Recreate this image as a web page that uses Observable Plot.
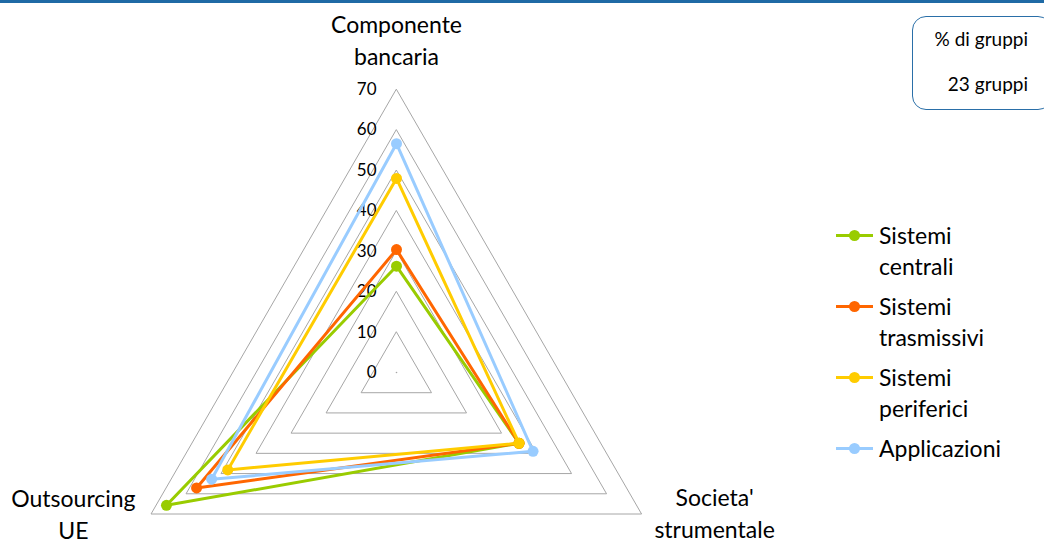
<!DOCTYPE html>
<html>
<head>
<meta charset="utf-8">
<script src="https://cdn.jsdelivr.net/npm/d3@7"></script>
<script src="https://cdn.jsdelivr.net/npm/@observablehq/plot@0.6"></script>
<style>
  html, body { margin: 0; padding: 0; background: #fff; }
  body { width: 1044px; height: 546px; position: relative; overflow: hidden; font-family: Lato, "Open Sans", sans-serif; color: #000; }
  #topbar { position: absolute; left: 0; top: 0; width: 1044px; height: 3px; background: #1f6aa5; }
  #chart { position: absolute; left: 0; top: 0; }
  #legend { position: absolute; left: 836px; top: 220px; font-size: 23px; line-height: 31px; }
  .item { display: flex; align-items: flex-start; margin-bottom: 9px; }
  .sw { width: 37px; height: 31px; position: relative; margin-right: 6px; flex: none; }
  .sw .ln { position: absolute; left: 0; top: 14px; width: 37px; height: 3px; }
  .sw .dt { position: absolute; left: 13px; top: 10px; width: 11px; height: 11px; border-radius: 50%; }
  #box { position: absolute; left: 912px; top: 16px; width: 140px; height: 94px; border: 1.5px solid #2a6fa8; border-radius: 14px; box-sizing: border-box; font-size: 19px; }
  #box div { position: absolute; right: 23px; }
</style>
</head>
<body>
<div id="chart"></div>
<div id="topbar"></div>
<div id="box"><div style="top:10px">% di gruppi</div><div style="top:55px">23 gruppi</div></div>
<div id="legend"></div>
<script>
// ---- data ----
const categories = ["Componente\nbancaria", "Societa'\nstrumentale", "Outsourcing\nUE"];
const seriesNames = ["Sistemi centrali", "Sistemi trasmissivi", "Sistemi periferici", "Applicazioni"];
const legendLabels = ["Sistemi<br>centrali", "Sistemi<br>trasmissivi", "Sistemi<br>periferici", "Applicazioni"];
const sistemiCentrali    = [26.3, 35.0, 65.7];
const sistemiTrasmissivi = [30.4, 35.0, 57.1];
const sistemiPeriferici  = [48.0, 35.0, 48.2];
const applicazioni       = [56.6, 39.0, 52.8];
const seriesColors = ["#99cc00", "#ff6600", "#ffcc00", "#99ccff"];
const ticks = [0, 10, 20, 30, 40, 50, 60, 70];

const seriesValues = [sistemiCentrali, sistemiTrasmissivi, sistemiPeriferici, applicazioni];
const angles = categories.map((c, i) => (i * 2 * Math.PI) / categories.length);
const px = (v, i) => v * Math.sin(angles[i]);
const py = (v, i) => v * Math.cos(angles[i]);

// scale: center pixel (396,372), 70 units -> 283 px
const k = 283 / 70, cx = 396, cy = 372, W = 1044, H = 546;

const grid = ticks.filter(t => t > 0).flatMap(t => categories.map((c, i) => ({t, x: px(t, i), y: py(t, i)})));
const tickLabels = ticks.map(t => ({t, x: 0, y: t}));
const axisLabels = categories.map((c, i) => ({label: c, x: px(70, i), y: py(70, i), i}));

const marks = [
  Plot.line(grid, {x: "x", y: "y", z: "t", curve: "linear-closed", stroke: "#a6a6a6", strokeWidth: 1}),
  Plot.dot([{x: 0, y: 0}], {x: "x", y: "y", r: 0.8, fill: "#a6a6a6"}),
  Plot.text(tickLabels, {x: "x", y: "y", text: d => String(d.t), textAnchor: "end", dx: -20, fontSize: 17, fill: "#000"}),
  Plot.text(axisLabels.filter(d => d.i === 0), {x: "x", y: "y", text: "label", dy: -51, fontSize: 23, lineHeight: 1.39, fill: "#000"}),
  Plot.text(axisLabels.filter(d => d.i === 1), {x: "x", y: "y", text: "label", dx: 73, dy: -2, fontSize: 23, lineHeight: 1.39, fill: "#000"}),
  Plot.text(axisLabels.filter(d => d.i === 2), {x: "x", y: "y", text: "label", dx: -78, dy: -1, fontSize: 23, lineHeight: 1.39, fill: "#000"})
];
seriesValues.forEach((vals, s) => {
  const pts = vals.map((v, i) => ({series: seriesNames[s], v, x: px(v, i), y: py(v, i)}));
  marks.push(Plot.line(pts, {x: "x", y: "y", curve: "linear-closed", stroke: seriesColors[s], strokeWidth: 3}));
  marks.push(Plot.dot(pts, {x: "x", y: "y", r: 5.5, fill: seriesColors[s], stroke: "none"}));
});

const chart = Plot.plot({
  width: W, height: H, margin: 0,
  x: {domain: [-cx / k, (W - cx) / k], range: [0, W], axis: null},
  y: {domain: [-(H - cy) / k, cy / k], range: [H, 0], axis: null},
  style: {fontFamily: "Lato, 'Open Sans', sans-serif", background: "transparent"},
  marks
});
document.getElementById("chart").appendChild(chart);

const legend = document.getElementById("legend");
seriesNames.forEach((n, s) => {
  const it = document.createElement("div");
  it.className = "item";
  it.innerHTML = `<div class="sw"><div class="ln" style="background:${seriesColors[s]}"></div><div class="dt" style="background:${seriesColors[s]}"></div></div><div>${legendLabels[s]}</div>`;
  legend.appendChild(it);
});
</script>
</body>
</html>
